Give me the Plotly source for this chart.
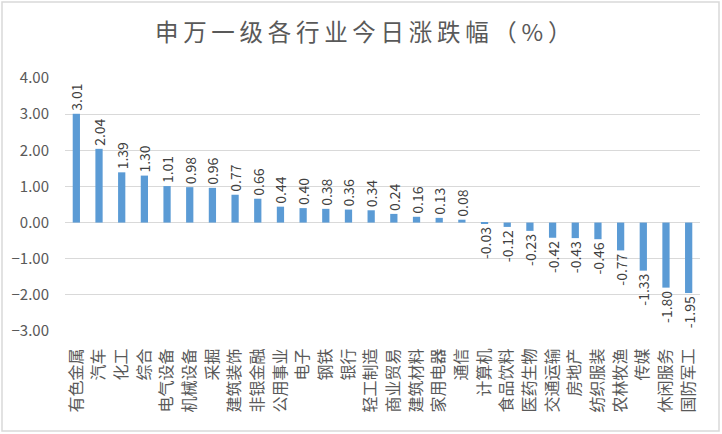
import plotly.graph_objects as go

# ------ 数据 ------ #
industries = [
    "有色金属", "汽车", "化工", "综合", "电气设备", "机械设备", "采掘",
    "建筑装饰", "非银金融", "公用事业", "电子", "钢铁", "银行", "轻工制造",
    "商业贸易", "建筑材料", "家用电器", "通信", "计算机", "食品饮料",
    "医药生物", "交通运输", "房地产", "纺织服装", "农林牧渔", "传媒",
    "休闲服务", "国防军工",
]
changes = [
    3.01, 2.04, 1.39, 1.30, 1.01, 0.98, 0.96, 0.77, 0.66, 0.44, 0.40, 0.38,
    0.36, 0.34, 0.24, 0.16, 0.13, 0.08, -0.03, -0.12, -0.23, -0.42, -0.43,
    -0.46, -0.77, -1.33, -1.80, -1.95,
]
y_ticks = [4, 3, 2, 1, 0, -1, -2, -3]
title_text = "申万一级各行业今日涨跌幅（%）"

W, H = 722, 434
M = dict(l=65, r=22, t=78, b=103)
FONT = "Noto Sans CJK SC, Microsoft YaHei, sans-serif"
GRAY = "#595959"

fig = go.Figure(
    go.Bar(
        x=industries,
        y=changes,
        marker=dict(color="#5B9BD5", line=dict(width=0)),
        texttemplate="%{y:.2f}",
        textposition="outside",
        textangle=-90,
        constraintext="none",
        cliponaxis=False,
        textfont=dict(family=FONT, size=14, color="#404040"),
        hoverinfo="x+y",
    )
)

# ------ 外框 ------ #
pw = W - M["l"] - M["r"]
ph = H - M["t"] - M["b"]
fig.add_shape(
    type="rect", xref="paper", yref="paper",
    x0=(2 - M["l"]) / pw, x1=(W - 3 - M["l"]) / pw,
    y0=-(H - 3 - (H - M["b"])) / ph, y1=(H - M["b"] - 2) / ph,
    line=dict(color="#D9D9D9", width=1.5), fillcolor="rgba(0,0,0,0)",
    layer="below",
)

fig.update_layout(
    width=W, height=H,
    margin=M,
    paper_bgcolor="white",
    plot_bgcolor="white",
    bargap=0.68,
    showlegend=False,
    font=dict(family=FONT, color=GRAY),
    title=dict(
        text="\u2009".join(title_text),  # 略加字距
        x=0.503, xref="container", xanchor="center",
        y=0.925, yanchor="middle",
        font=dict(family=FONT, size=23.5, color=GRAY),
    ),
)
fig.update_xaxes(
    automargin=False,
    tickangle=-90,
    ticks="outside", ticklen=10, tickcolor="white",
    tickfont=dict(family=FONT, size=16, color=GRAY),
    showgrid=False, showline=False, zeroline=False,
)
fig.update_yaxes(
    automargin=False,
    range=[-3, 4],
    tickvals=y_ticks,
    tickformat=".2f",
    ticks="outside", ticklen=12, tickcolor="white",
    tickfont=dict(family=FONT, size=15, color=GRAY),
    showgrid=True, gridcolor="#D9D9D9", gridwidth=1,
    zeroline=True, zerolinecolor="#D9D9D9", zerolinewidth=1,
    showline=False,
)

# 去掉页面默认边距, 使图表贴齐窗口左上角
fig.write_html(
    "out.html",
    config={"displayModeBar": False},
    post_script="document.body.style.margin='0';",
)
